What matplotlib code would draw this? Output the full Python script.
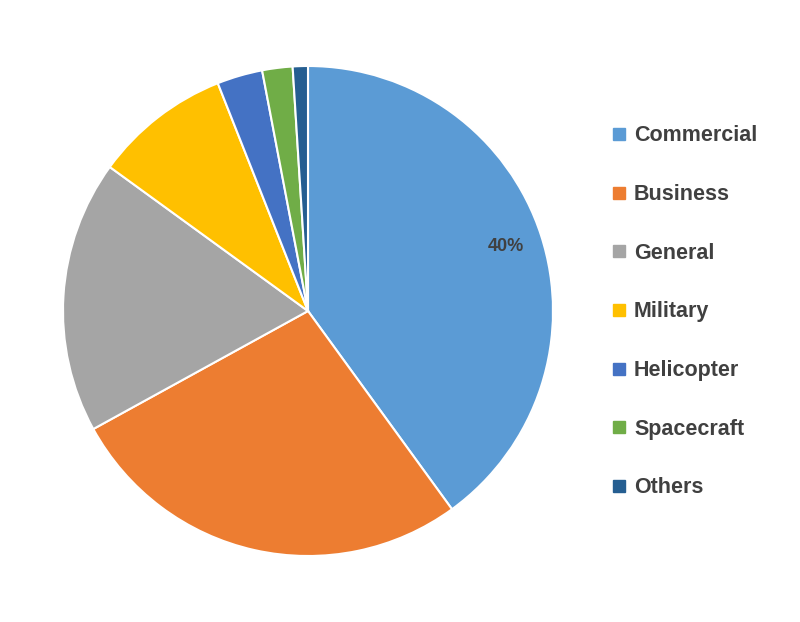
import matplotlib
matplotlib.use("Agg")
import matplotlib.pyplot as plt
from matplotlib.lines import Line2D

categories = ["Commercial", "Business", "General", "Military", "Helicopter", "Spacecraft", "Others"]
values = [40, 27, 18, 9, 3, 2, 1]
colors = ["#5B9BD5", "#ED7D31", "#A5A5A5", "#FFC000", "#4472C4", "#70AD47", "#255E91"]

plt.rcParams["font.family"] = "Liberation Sans"
fig = plt.figure(figsize=(8, 6.22), dpi=100)
cx, cy, r = 308, 311, 245
ax = fig.add_axes([(cx - r) / 800, (622 - cy - r) / 622, 2 * r / 800, 2 * r / 622])
wedges, texts, autotexts = ax.pie(values, colors=colors, startangle=90, counterclock=False,
                                  autopct=lambda p: f"{p:.0f}%" if p > 30 else "",
                                  pctdistance=0.85,
                                  wedgeprops=dict(edgecolor="white", linewidth=1.5))
for t in autotexts:
    t.set_color("#404040")
    t.set_fontweight("bold")
    t.set_fontsize(13)
ax.set_xlim(-1, 1)
ax.set_ylim(-1, 1)
ax.set_aspect("equal")

handles = [Line2D([0], [0], marker="s", color="none", markerfacecolor=c, markeredgecolor=c,
                  markersize=8) for c in colors]
leg = fig.legend(handles, categories, loc="upper left", bbox_to_anchor=(592 / 800, 1 - 106 / 622),
                 frameon=False, labelspacing=1.75, handlelength=0.7, handletextpad=0.35,
                 prop=dict(size=15.5, weight="bold"))
for t in leg.get_texts():
    t.set_color("#404040")

fig.savefig("out.png", dpi=100)
